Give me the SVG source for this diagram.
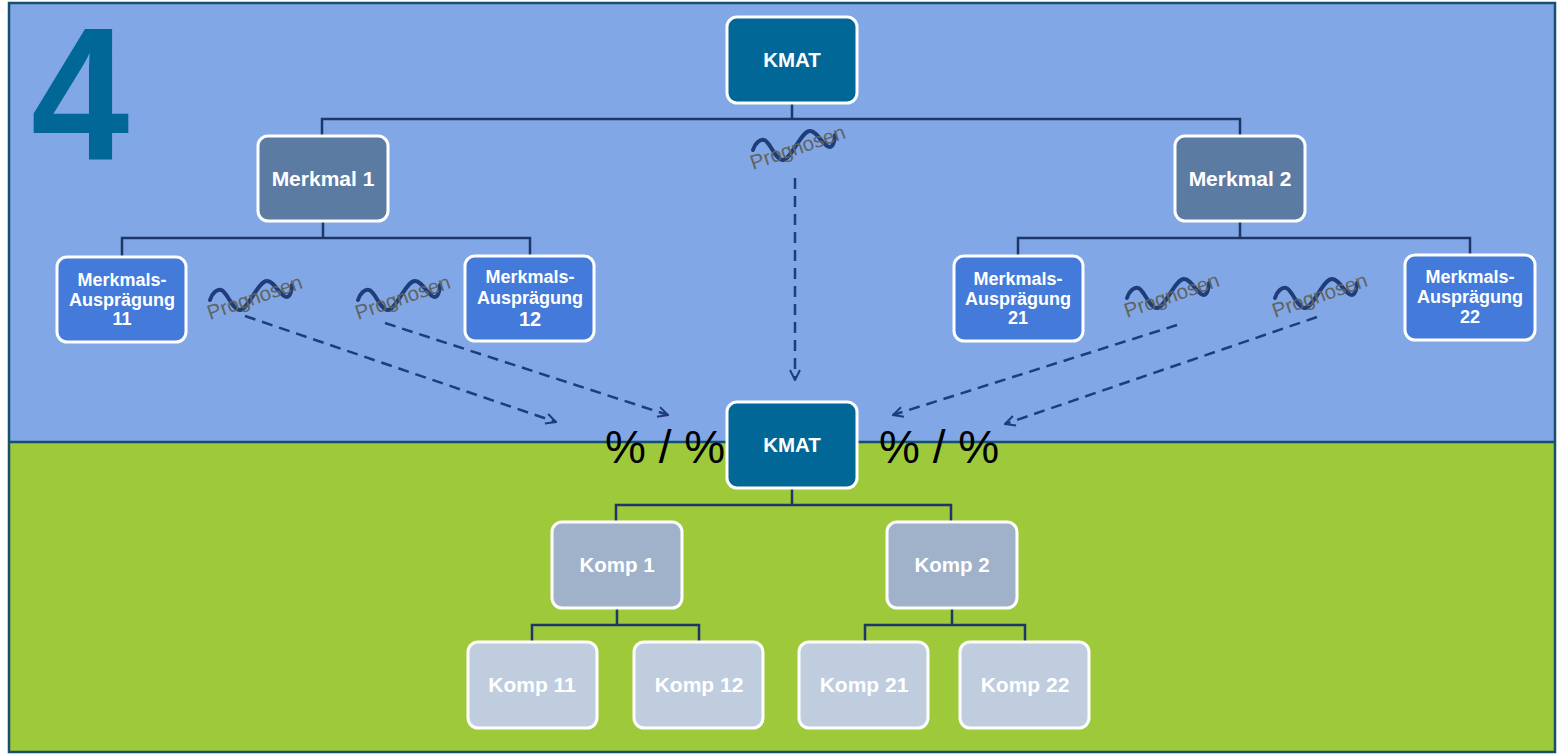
<svg xmlns="http://www.w3.org/2000/svg" width="1557" height="754" viewBox="0 0 1557 754">
  <style>
    .box { stroke: #ffffff; stroke-width: 3; }
    .kmat { fill: #006796; }
    .merk { fill: #5b7ba3; }
    .ausp { fill: #447bdb; }
    .komp { fill: #9fb2ca; }
    .komp2 { fill: #bfcddf; }
    .lbl { font-family: "Liberation Sans", Arial, sans-serif; font-weight: bold; fill: #ffffff; text-anchor: middle; }
    .tree { fill: none; stroke: #1c3768; stroke-width: 2.5; }
    .dash { fill: none; stroke: #1f3d78; stroke-width: 2.5; stroke-dasharray: 11 7; marker-end: url(#arr); }
    .wave { fill: none; stroke: #1f3d78; stroke-width: 4; stroke-linecap: round; }
    .prog { font-family: "Liberation Sans", Arial, sans-serif; font-size: 20.5px; fill: #5f6461; }
    .pct { font-family: "Liberation Sans", Arial, sans-serif; font-size: 46px; fill: #000000; }
  </style>
  <defs>
    <marker id="arr" viewBox="0 0 12 12" refX="11" refY="6" markerWidth="12" markerHeight="12" markerUnits="userSpaceOnUse" orient="auto">
      <path d="M1,1 L11,6 L1,11" fill="none" stroke="#1f3d78" stroke-width="2"/>
    </marker>
    <path id="wv" class="wave" d="M0,-20 C2,-27 7,-31 11,-30 C17,-29 22,-10 30,-10 C38,-10 48,-39 57,-39 C65,-39 70,-23 77,-23 C80,-23 82,-30 82,-35"/>
  </defs>

  <!-- background bands -->
  <rect x="9" y="3" width="1546" height="439" fill="#82a7e6"/>
  <rect x="9" y="442" width="1546" height="310" fill="#9ec93a"/>
  <line x1="9" y1="442" x2="1555" y2="442" stroke="#17506e" stroke-width="2.5"/>
  <rect x="9" y="3" width="1546" height="749" fill="none" stroke="#17506e" stroke-width="2.5"/>

  <text transform="translate(31,160) scale(0.93,1)" font-family="Liberation Sans, Arial, sans-serif" font-weight="bold" font-size="190" fill="#006796">4</text>

  <!-- connectors -->
  <g id="connectors">
    <path class="tree" d="M792,103 V119 M322,136 V119 H1240 V136"/>
    <path class="tree" d="M323,221 V238 M122,257 V238 H530 V256"/>
    <path class="tree" d="M1240,221 V238 M1018,256 V238 H1470 V255"/>
    <path class="tree" d="M792,488 V505 M616,522 V505 H951 V522"/>
    <path class="tree" d="M617,608 V625 M532,642 V625 H699 V642"/>
    <path class="tree" d="M952,608 V625 M865,642 V625 H1025 V642"/>
    <path class="dash" d="M795,178 V380"/>
    <path class="dash" d="M245,316 L556,422"/>
    <path class="dash" d="M385,323 L668,415"/>
    <path class="dash" d="M1177,325 L893,415"/>
    <path class="dash" d="M1317,317 L1005,424"/>
  </g>

  <!-- forecast labels -->
  <g id="prognosen">
    <g transform="translate(753,170)"><use href="#wv"/><text class="prog" transform="rotate(-19)">Prognosen</text></g>
    <g transform="translate(210,320)"><use href="#wv"/><text class="prog" transform="rotate(-19)">Prognosen</text></g>
    <g transform="translate(358,320)"><use href="#wv"/><text class="prog" transform="rotate(-19)">Prognosen</text></g>
    <g transform="translate(1127,318)"><use href="#wv"/><text class="prog" transform="rotate(-19)">Prognosen</text></g>
    <g transform="translate(1275,318)"><use href="#wv"/><text class="prog" transform="rotate(-19)">Prognosen</text></g>
  </g>

  <text class="pct" x="605" y="463">% / %</text>
  <text class="pct" x="879" y="463">% / %</text>

  <!-- nodes -->
  <g id="kmat-top"><rect class="box kmat" x="727" y="17" width="130" height="86" rx="10"/><text class="lbl" x="792" y="67" font-size="20.5">KMAT</text></g>
  <g id="merkmal-1"><rect class="box merk" x="258" y="136" width="130" height="85" rx="10"/><text class="lbl" x="323" y="186" font-size="21">Merkmal 1</text></g>
  <g id="merkmal-2"><rect class="box merk" x="1175" y="136" width="130" height="85" rx="10"/><text class="lbl" x="1240" y="186" font-size="21">Merkmal 2</text></g>
  <g id="auspraegung-11"><rect class="box ausp" x="57" y="257" width="129" height="85" rx="10"/><text class="lbl" x="122" y="286" font-size="18">Merkmals-<tspan x="122" dy="19.5">Ausprägung</tspan><tspan x="122" dy="19.5">11</tspan></text></g>
  <g id="auspraegung-12"><rect class="box ausp" x="465" y="256" width="129" height="85" rx="10"/><text class="lbl" x="530" y="283" font-size="18">Merkmals-<tspan x="530" dy="21">Ausprägung</tspan><tspan x="530" dy="22" font-size="20">12</tspan></text></g>
  <g id="auspraegung-21"><rect class="box ausp" x="954" y="256" width="129" height="85" rx="10"/><text class="lbl" x="1018" y="285" font-size="18">Merkmals-<tspan x="1018" dy="19.5">Ausprägung</tspan><tspan x="1018" dy="19.5">21</tspan></text></g>
  <g id="auspraegung-22"><rect class="box ausp" x="1405" y="255" width="130" height="85" rx="10"/><text class="lbl" x="1470" y="283" font-size="18">Merkmals-<tspan x="1470" dy="20">Ausprägung</tspan><tspan x="1470" dy="20">22</tspan></text></g>
  <g id="kmat-bottom"><rect class="box kmat" x="727" y="402" width="130" height="86" rx="10"/><text class="lbl" x="792" y="452" font-size="20.5">KMAT</text></g>
  <g id="komp-1"><rect class="box komp" x="552" y="522" width="130" height="86" rx="10"/><text class="lbl" x="617" y="572" font-size="20.5">Komp 1</text></g>
  <g id="komp-2"><rect class="box komp" x="887" y="522" width="130" height="86" rx="10"/><text class="lbl" x="952" y="572" font-size="20.5">Komp 2</text></g>
  <g id="komp-11"><rect class="box komp2" x="468" y="642" width="129" height="86" rx="10"/><text class="lbl" x="532" y="692" font-size="21">Komp 11</text></g>
  <g id="komp-12"><rect class="box komp2" x="634" y="642" width="129" height="86" rx="10"/><text class="lbl" x="699" y="692" font-size="21">Komp 12</text></g>
  <g id="komp-21"><rect class="box komp2" x="799" y="642" width="129" height="86" rx="10"/><text class="lbl" x="864" y="692" font-size="21">Komp 21</text></g>
  <g id="komp-22"><rect class="box komp2" x="960" y="642" width="129" height="86" rx="10"/><text class="lbl" x="1025" y="692" font-size="21">Komp 22</text></g>
</svg>
